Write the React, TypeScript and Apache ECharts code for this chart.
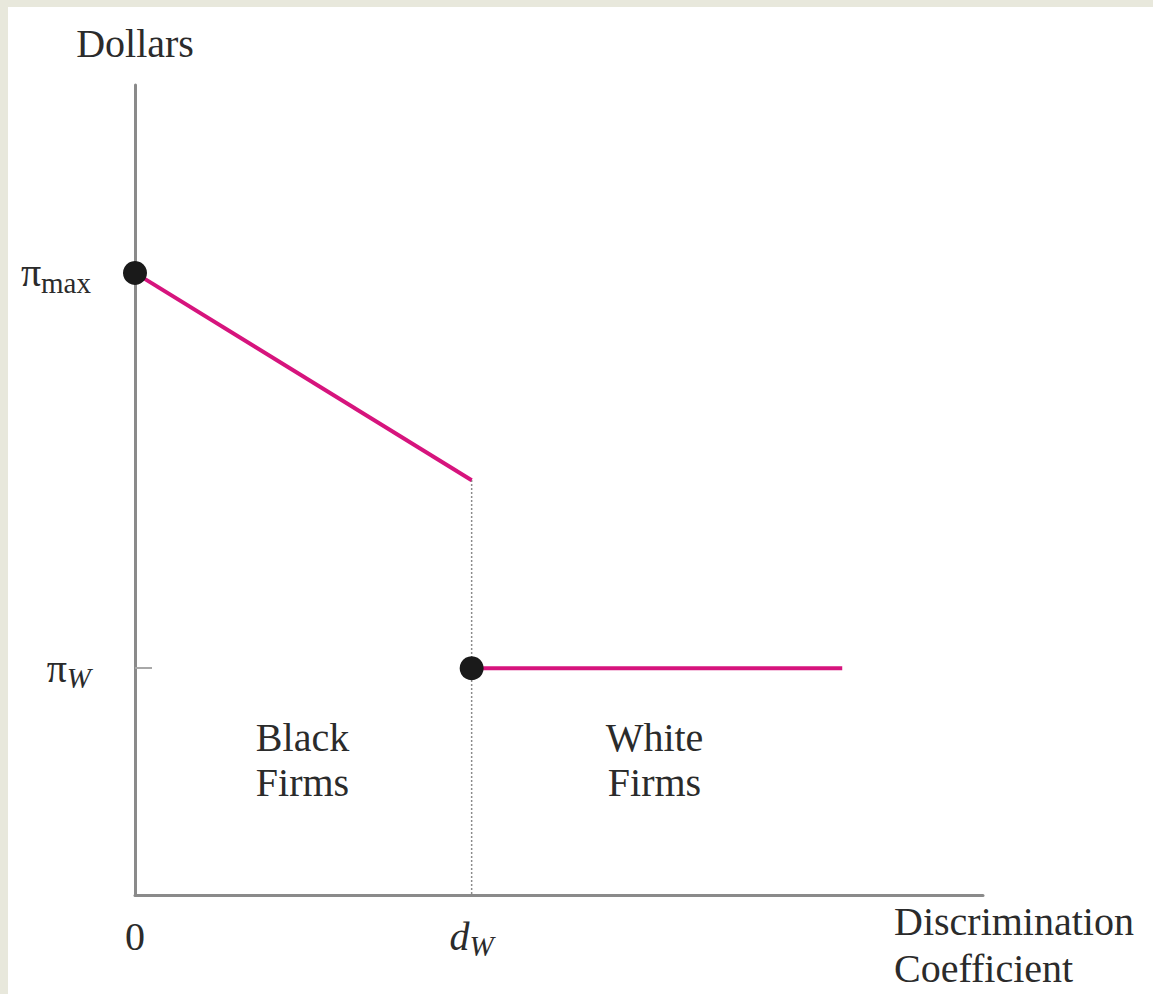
import React, { useEffect, useRef } from "react";
import * as echarts from "echarts";

// ---- data (arbitrary units, axis 0..100) ----
const X_MIN = 0;
const X_MAX = 100;
const Y_MIN = 0;
const Y_MAX = 100;

const D_W = 39.7; // discrimination coefficient threshold
const PI_MAX = 76.8; // maximum profit
const PI_W = 28.0; // profit of white firms
const KINK_Y = 51.2; // profit of black firms at d_W
const X_END = 83.4; // end of white-firms segment

const blackFirmsProfit: number[][] = [
  [0, PI_MAX],
  [D_W, KINK_Y],
];
const whiteFirmsProfit: number[][] = [
  [D_W, PI_W],
  [X_END, PI_W],
];
const markedPoints: number[][] = [
  [0, PI_MAX],
  [D_W, PI_W],
];
const dividerLine: number[][] = [
  [D_W, KINK_Y],
  [D_W, 0],
];

const xTickValues = [0, D_W];
const xTickLabels = ["{n|0}", "{d|d}{sub|W}"];
const yTickValues = [PI_MAX, PI_W];
const yTickLabels = ["{n|π}{sub|max}", "{n|π}{subi|W}"];
const yTickMarks = [PI_W];

const FONT = "'Liberation Serif', 'Times New Roman', serif";
const TEXT = "#2b2b2b";
const AXIS = "#8a8a8a";
const PINK = "#d6147d";
const FS = 40;
const SUB_FS = 29;

const rich = {
  n: { fontSize: FS, fontFamily: FONT, color: TEXT, lineHeight: 44 },
  d: { fontSize: FS, fontFamily: FONT, fontStyle: "italic", color: TEXT, lineHeight: 44 },
  sub: {
    fontSize: SUB_FS,
    fontFamily: FONT,
    color: TEXT,
    lineHeight: 24,
    padding: [20, 0, 0, 0],
  },
  subi: {
    fontSize: SUB_FS,
    fontFamily: FONT,
    fontStyle: "italic",
    color: TEXT,
    lineHeight: 24,
    padding: [20, 0, 0, 0],
  },
};

export default function App() {
  const ref = useRef<HTMLDivElement>(null);

  useEffect(() => {
    document.body.style.margin = "0";
    if (!ref.current) return;
    const chart = echarts.init(ref.current, undefined, { renderer: "svg" });
    const pickLabel = (vals: number[], labels: string[]) => (v: number) => {
      let best = 0;
      for (let i = 1; i < vals.length; i++) {
        if (Math.abs(vals[i] - v) < Math.abs(vals[best] - v)) best = i;
      }
      return labels[best];
    };
    chart.setOption({
      animation: false,
      backgroundColor: "#ffffff",
      grid: { left: 127, top: 78, width: 848, height: 810, containLabel: false },
      xAxis: {
        type: "value",
        min: X_MIN,
        max: X_MAX,
        name: "Discrimination\nCoefficient",
        nameLocation: "end",
        nameGap: -89,
        nameTextStyle: {
          fontSize: FS,
          fontFamily: FONT,
          color: TEXT,
          align: "left",
          verticalAlign: "top",
          lineHeight: 47,
          padding: [3, 0, 0, 0],
        },
        axisLine: { show: true, lineStyle: { color: AXIS, width: 3 } },
        axisTick: { show: false },
        splitLine: { show: false },
        axisLabel: {
          customValues: xTickValues,
          margin: 19,
          formatter: pickLabel(xTickValues, xTickLabels),
          rich: { n: rich.n, d: rich.d, sub: rich.subi },
        },
      },
      yAxis: {
        type: "value",
        min: Y_MIN,
        max: Y_MAX,
        name: "Dollars",
        nameLocation: "end",
        nameGap: 42,
        nameTextStyle: {
          fontSize: FS,
          fontFamily: FONT,
          color: TEXT,
          align: "center",
          verticalAlign: "middle",
        },
        axisLine: { show: true, lineStyle: { color: AXIS, width: 3 } },
        axisTick: {
          show: true,
          inside: true,
          length: 17,
          customValues: yTickMarks,
          lineStyle: { color: "#a8a8a8", width: 2 },
        },
        splitLine: { show: false },
        axisLabel: {
          customValues: yTickValues,
          margin: 44,
          formatter: pickLabel(yTickValues, yTickLabels),
          rich,
        },
      },
      series: [
        {
          name: "Black firms",
          type: "line",
          data: blackFirmsProfit,
          symbol: "none",
          clip: false,
          lineStyle: { color: PINK, width: 4 },
          z: 2,
        },
        {
          name: "White firms",
          type: "line",
          data: whiteFirmsProfit,
          symbol: "none",
          clip: false,
          lineStyle: { color: PINK, width: 4 },
          z: 2,
        },
        {
          name: "Divider",
          type: "line",
          data: dividerLine,
          symbol: "none",
          clip: false,
          lineStyle: { color: "#666666", width: 1.5, type: [1.5, 2.5] },
          z: 1,
        },
        {
          name: "Points",
          type: "scatter",
          data: markedPoints,
          symbol: "circle",
          symbolSize: 24,
          clip: false,
          itemStyle: { color: "#1a1a1a", opacity: 1 },
          z: 4,
        },
      ],
      graphic: [
        {
          type: "text",
          x: 294.5,
          y: 753,
          style: {
            text: "Black\nFirms",
            fontSize: FS,
            fontFamily: FONT,
            fill: TEXT,
            align: "center",
            verticalAlign: "middle",
            lineHeight: 45,
          },
        },
        {
          type: "text",
          x: 646.5,
          y: 753,
          style: {
            text: "White\nFirms",
            fontSize: FS,
            fontFamily: FONT,
            fill: TEXT,
            align: "center",
            verticalAlign: "middle",
            lineHeight: 45,
          },
        },
      ],
    });
    return () => chart.dispose();
  }, []);

  return (
    <div
      style={{
        position: "relative",
        width: 1153,
        height: 994,
        background: "#e8e8dc",
        overflow: "hidden",
      }}
    >
      <div
        ref={ref}
        style={{
          position: "absolute",
          left: 8,
          top: 7,
          width: 1145,
          height: 987,
          background: "#ffffff",
        }}
      />
    </div>
  );
}
